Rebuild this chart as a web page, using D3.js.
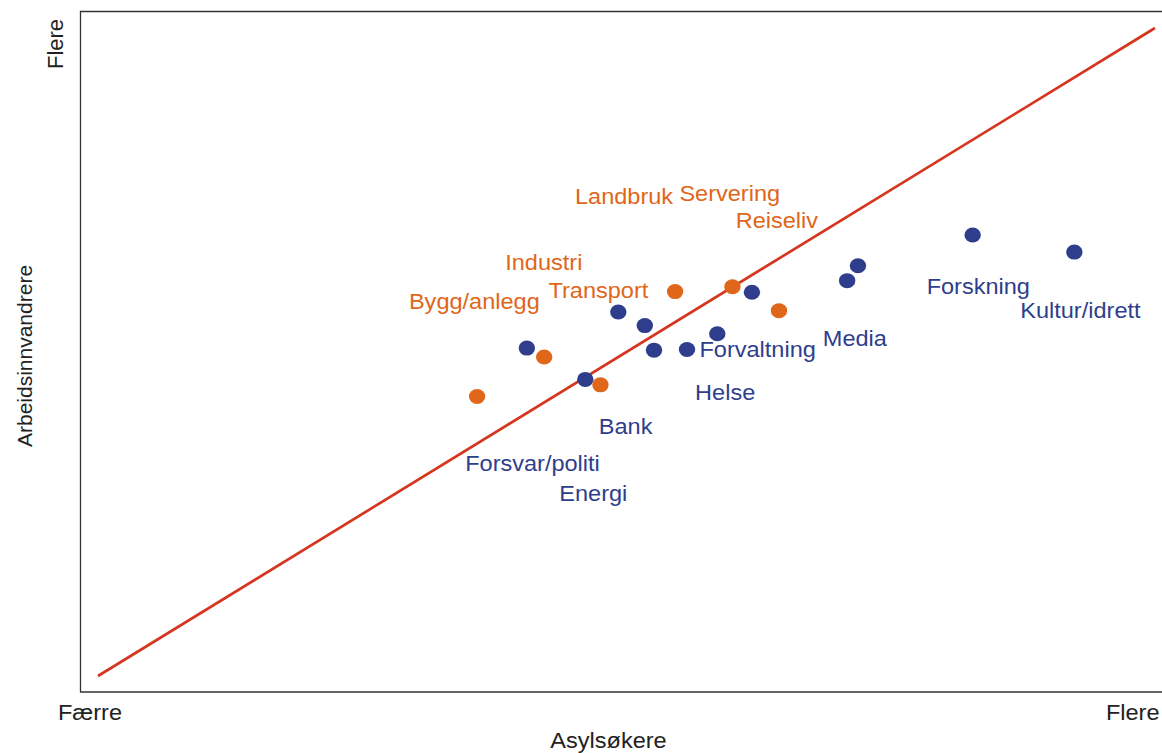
<!DOCTYPE html>
<html>
<head>
<meta charset="utf-8">
<script src="https://cdn.jsdelivr.net/npm/d3@7"></script>
<style>
  html, body { margin: 0; padding: 0; background: #fff; }
  svg { display: block; font-family: "Liberation Sans", Arial, Helvetica, sans-serif; }
</style>
</head>
<body>
<svg id="chart" width="1162" height="753"></svg>
<script>
// ---- data (x = asylsøkere index, y = arbeidsinnvandrere index, 0–100) ----
const bluePointsX = [41.3, 46.7, 49.75, 52.2, 53.05, 56.1, 58.9, 62.1, 70.9, 71.9, 82.5, 91.9];
const bluePointsY = [50.5, 45.9, 55.8, 53.8, 50.2, 50.3, 52.6, 58.7, 60.4, 62.6, 67.1, 64.6];

const orangePointsX = [36.7, 42.9, 48.1, 55.0, 60.3, 64.6];
const orangePointsY = [43.4, 49.2, 45.1, 58.8, 59.5, 56.0];

const orangeLabels  = ["Landbruk", "Servering", "Reiseliv", "Industri", "Transport", "Bygg/anlegg"];
const orangeLabelX  = [45.75, 55.4, 60.6, 39.3, 43.3, 30.4];
const orangeLabelY  = [71.7, 72.1, 68.1, 62.0, 57.8, 56.3];

const blueLabels    = ["Forvaltning", "Helse", "Bank", "Forsvar/politi", "Energi", "Forskning", "Kultur/idrett", "Media"];
const blueLabelX    = [57.25, 56.85, 47.95, 35.6, 44.3, 78.25, 86.9, 68.65];
const blueLabelY    = [49.15, 42.9, 37.85, 32.5, 28.05, 58.4, 54.9, 50.8];

const diagonalX = [1.66, 99.35];
const diagonalY = [2.35, 97.5];

const xTickLabels = ["Færre", "Flere"];
const yTickLabels = ["Flere"];
const xTitle = "Asylsøkere";
const yTitle = "Arbeidsinnvandrere";

// ---- styling ----
const BLUE = "#2f3e8c";
const ORANGE = "#e0661a";
const RED = "#d6361f";
const TEXT = "#222";
const FS = 22;
const SX = 1.07; // horizontal text widening

const svg = d3.select("#chart");
const plot = { left: 80.5, top: 11.5, right: 1162, bottom: 692 };

const x = d3.scaleLinear().domain([0, 100]).range([80, 1162]);
const y = d3.scaleLinear().domain([0, 100]).range([692, 11]);

// frame (top, left, bottom; right side runs off canvas)
svg.append("path")
  .attr("d", `M${plot.right + 5},${plot.top} H${plot.left} V${plot.bottom} H${plot.right + 5}`)
  .attr("fill", "none")
  .attr("stroke", "#333")
  .attr("stroke-width", 1.3);

// diagonal line
const line = d3.line().x(d => x(d[0])).y(d => y(d[1]));
svg.append("path")
  .datum(d3.zip(diagonalX, diagonalY))
  .attr("d", line)
  .attr("fill", "none")
  .attr("stroke", RED)
  .attr("stroke-width", 2.7);

// points
function drawPoints(xs, ys, color) {
  svg.append("g").selectAll("ellipse")
    .data(d3.zip(xs, ys))
    .join("ellipse")
    .attr("cx", d => x(d[0]))
    .attr("cy", d => y(d[1]))
    .attr("rx", 8.2)
    .attr("ry", 7.5)
    .attr("fill", color);
}
drawPoints(bluePointsX, bluePointsY, BLUE);
drawPoints(orangePointsX, orangePointsY, ORANGE);

// labels
function drawLabels(names, xs, ys, color) {
  svg.append("g").selectAll("text")
    .data(d3.zip(names, xs, ys))
    .join("text")
    .attr("transform", d => `translate(${x(d[1])},${y(d[2])}) scale(${SX},1)`)
    .attr("font-size", FS)
    .attr("fill", color)
    .text(d => d[0]);
}
drawLabels(orangeLabels, orangeLabelX, orangeLabelY, ORANGE);
drawLabels(blueLabels, blueLabelX, blueLabelY, BLUE);

// axis end labels
svg.append("text")
  .attr("transform", `translate(${x(0) - 22},719.5) scale(${SX},1)`)
  .attr("font-size", FS).attr("fill", TEXT)
  .text(xTickLabels[0]);
svg.append("text")
  .attr("transform", `translate(1159.5,719.5) scale(${SX},1)`)
  .attr("font-size", FS).attr("fill", TEXT)
  .attr("text-anchor", "end")
  .text(xTickLabels[1]);
svg.append("text")
  .attr("transform", `translate(63,44) rotate(-90)`)
  .attr("font-size", FS).attr("fill", TEXT)
  .attr("text-anchor", "middle")
  .text(yTickLabels[0]);

// axis titles
svg.append("text")
  .attr("transform", `translate(608.5,748) scale(${SX},1)`)
  .attr("font-size", FS).attr("fill", TEXT)
  .attr("text-anchor", "middle")
  .text(xTitle);
svg.append("text")
  .attr("transform", `translate(32,356) rotate(-90)`)
  .attr("font-size", 21).attr("fill", TEXT)
  .attr("text-anchor", "middle")
  .text(yTitle);
</script>
</body>
</html>
